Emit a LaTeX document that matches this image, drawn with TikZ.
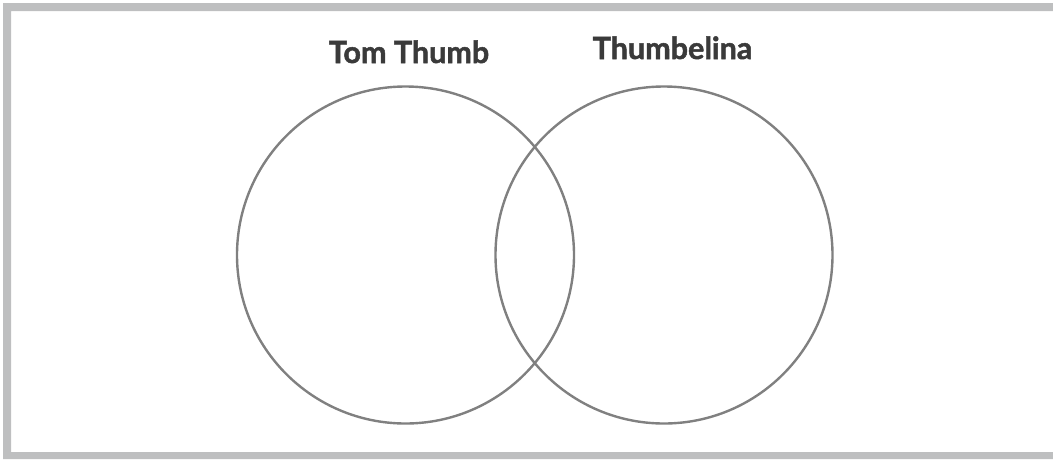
\documentclass[tikz,border=0pt]{standalone}
\usepackage{fontspec}
\setmainfont{Lato}[BoldFeatures={FakeBold=1.6}]
\usepackage{xcolor}
\usepackage{tikz}
\definecolor{framegray}{HTML}{BEBFC0}
\definecolor{ringgray}{HTML}{808080}
\definecolor{inkgray}{HTML}{3A3A3A}
\tikzset{
  vennset/.style={draw=ringgray,line width=2.4pt,circle,minimum size=337pt,inner sep=0pt},
  setlabel/.style={anchor=base,inner sep=0pt,text=inkgray,font=\fontsize{30.5}{33}\selectfont\bfseries},
}

\begin{document}
\begin{tikzpicture}[x=1pt,y=-1pt]
    \useasboundingbox (0,0) rectangle (1053,459);
    % frame
    \fill[framegray,even odd rule] (3,3) rectangle (1053,459) (11,11) rectangle (1053,452);
    % the two sets
    \node[vennset] (tom) at (405.5,255) {};
    \node[vennset] (thumbelina) at (664,255) {};
    \node[setlabel] (tomlabel) at (409,63) {Tom Thumb};
    \node[setlabel] (thumbelinalabel) at (672.5,59) {Thumbelina};
  \end{tikzpicture}
\end{document}
